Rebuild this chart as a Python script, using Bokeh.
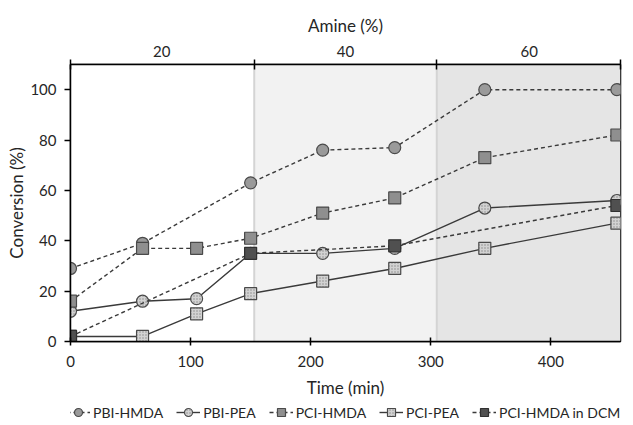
from bokeh.plotting import figure
from bokeh.layouts import column
from bokeh.models import Range1d, LinearAxis, FixedTicker, Legend, LegendItem
from bokeh.embed import file_html
from bokeh.resources import INLINE

# ---- data ----
t_pbi_hmda = [0, 60, 150, 210, 270, 345, 455]
pbi_hmda = [29, 39, 63, 76, 77, 100, 100]
t_pbi_pea = [0, 60, 105, 150, 210, 270, 345, 455]
pbi_pea = [12, 16, 17, 35, 35, 37, 53, 56]
t_pci_hmda = [0, 60, 105, 150, 210, 270, 345, 455]
pci_hmda = [16, 37, 37, 41, 51, 57, 73, 82]
t_pci_pea = [0, 60, 105, 150, 210, 270, 345, 455]
pci_pea = [2, 2, 11, 19, 24, 29, 37, 47]
t_dcm = [0, 150, 270, 455]
pci_hmda_dcm = [2, 35, 38, 54]

series_names = ["PBI-HMDA", "PBI-PEA", "PCI-HMDA", "PCI-PEA", "PCI-HMDA in DCM"]

amine_bounds = [0, 153, 305, 458]
amine_labels = ["20", "40", "60"]
region_colors = ["#ffffff", "#f2f2f2", "#e5e5e5"]

x_ticks = [0, 100, 200, 300, 400]
y_ticks = [0, 20, 40, 60, 80, 100]

FONT = "Lato"
TXT = "#262626"
LINE = "#3a3a3a"

p = figure(width=633, height=400, output_backend="svg", toolbar_location=None,
           x_range=Range1d(0, 458), y_range=Range1d(0, 110),
           min_border_left=70, min_border_right=13, min_border_top=64, min_border_bottom=55)
p.xgrid.visible = False
p.ygrid.visible = False
p.outline_line_color = "black"
p.outline_line_width = 1.5
p.background_fill_color = "white"

# shaded amine regions
p.quad(left=amine_bounds[:-1], right=amine_bounds[1:], bottom=0, top=110,
       fill_color=region_colors, line_color=None)
p.segment(x0=amine_bounds[1:-1], x1=amine_bounds[1:-1], y0=0, y1=110,
          line_color="#d4d4d4", line_width=2)

# axes styling
def style_axis(ax):
    ax.axis_line_color = "black"
    ax.axis_line_width = 1.5
    ax.major_tick_line_color = "black"
    ax.major_tick_line_width = 1.5
    ax.minor_tick_line_color = "black"
    ax.minor_tick_line_width = 1.5
    ax.major_label_text_font = FONT
    ax.major_label_text_font_size = "15px"
    ax.major_label_text_color = TXT
    ax.axis_label_text_font = FONT
    ax.axis_label_text_font_size = "17px"
    ax.axis_label_text_font_style = "normal"
    ax.axis_label_text_color = TXT

xa = p.xaxis[0]
xa.ticker = FixedTicker(ticks=x_ticks)
xa.axis_label = "Time (min)"
style_axis(xa)
xa.major_tick_in = 4
xa.major_tick_out = 4
xa.minor_tick_in = 0
xa.minor_tick_out = 0
xa.major_label_standoff = 10
xa.axis_label_standoff = 7

ya = p.yaxis[0]
ya.ticker = FixedTicker(ticks=y_ticks)
ya.axis_label = "Conversion (%)"
style_axis(ya)
ya.major_tick_in = 0
ya.major_tick_out = 6
ya.minor_tick_in = 0
ya.minor_tick_out = 0
ya.major_label_standoff = 8
ya.axis_label_standoff = 0

centers = [round((a + b) / 2) for a, b in zip(amine_bounds[:-1], amine_bounds[1:])]
top = LinearAxis(ticker=FixedTicker(ticks=centers, minor_ticks=amine_bounds),
                 major_label_overrides={c: lab for c, lab in zip(centers, amine_labels)},
                 axis_label="Amine (%)")
style_axis(top)
top.major_tick_in = 0
top.major_tick_out = 0
top.minor_tick_in = 5
top.minor_tick_out = 5
top.major_label_standoff = 3
top.axis_label_standoff = 7
p.add_layout(top, "above")

# series styles
dash = "4 3"
styles = [
    dict(dash=dash, marker="circle", fill="#9a9a9a", hatch=None, outline="#4a4a4a"),
    dict(dash="solid", marker="circle", fill="#d2d2d2", hatch="dot", outline="#4a4a4a"),
    dict(dash=dash, marker="square", fill="#8f8f8f", hatch=None, outline="#4a4a4a"),
    dict(dash="solid", marker="square", fill="#d2d2d2", hatch="dot", outline="#4a4a4a"),
    dict(dash=dash, marker="square", fill="#505050", hatch=None, outline="#303030"),
]
data = [(t_pbi_hmda, pbi_hmda), (t_pbi_pea, pbi_pea), (t_pci_hmda, pci_hmda),
        (t_pci_pea, pci_pea), (t_dcm, pci_hmda_dcm)]


def draw(fig, xs, ys, st, size):
    ln = fig.line(xs, ys, line_color=LINE, line_width=1.4, line_dash=st["dash"])
    kw = dict(marker=st["marker"], size=size, fill_color=st["fill"],
              line_color=st["outline"], line_width=1.2)
    if st["hatch"]:
        kw.update(hatch_pattern=st["hatch"], hatch_color="#8a8a8a", hatch_scale=3, hatch_weight=1)
    sc = fig.scatter(xs, ys, **kw)
    return ln, sc


for (xs, ys), st in zip(data, styles):
    draw(p, xs, ys, st, 12)

# legend strip below the chart (series drawn again, outside its visible range,
# only so that the legend has glyphs to show)
lg = figure(width=633, height=25, output_backend="svg", toolbar_location=None,
            x_range=Range1d(-20, -10), y_range=Range1d(-20, -10),
            min_border_left=0, min_border_right=0, min_border_top=0, min_border_bottom=0,
            x_axis_type=None, y_axis_type=None)
lg.xgrid.visible = False
lg.ygrid.visible = False
lg.outline_line_color = None

items = []
for name, (xs, ys), st in zip(series_names, data, styles):
    ln, sc = draw(lg, xs, ys, st, 10)
    items.append(LegendItem(label=name, renderers=[ln, sc]))

legend = Legend(items=items, orientation="horizontal", location=(-4, 3),
                label_text_font=FONT, label_text_font_size="14px", label_text_color=TXT,
                glyph_width=24, glyph_height=20, label_standoff=3, spacing=13,
                padding=0, margin=0, border_line_color=None, background_fill_alpha=0)
lg.add_layout(legend, "center")

open("out.html", "w").write(file_html(column(p, lg, spacing=0), INLINE))
